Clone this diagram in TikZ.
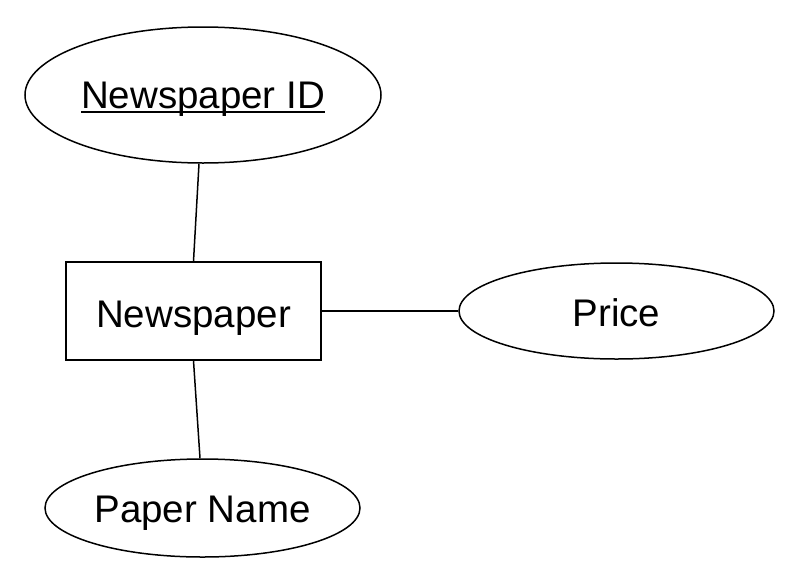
\documentclass[tikz,border=0pt]{standalone}
\usepackage{fontspec}
\setmainfont{Liberation Sans}
\usetikzlibrary{shapes.geometric}
\newcommand\myul[1]{\setbox0\hbox{#1}\rlap{\rule[-4.5pt]{\wd0}{1.8pt}}\box0}
\begin{document}
\begin{tikzpicture}[x=1pt,y=-1pt,
  base/.style={draw,line width=1.5pt,inner sep=0pt,font=\fontsize{38.5}{40}\selectfont,text depth=0pt},
  attr/.style={base,ellipse},
  entity/.style={base,rectangle},
  link/.style={line width=1.5pt}]
\useasboundingbox (0,0) rectangle (800,584);
\node[attr,minimum width=356pt,minimum height=136pt,text height=26pt] (id) at (203,95) {\myul{Newspaper ID}};
\node[entity,minimum width=255pt,minimum height=98pt,text height=33pt] (np) at (193.5,311) {Newspaper};
\node[attr,minimum width=315pt,minimum height=96pt,text height=31pt] (price) at (616.5,311) {Price};
\node[attr,minimum width=315pt,minimum height=98pt,text height=29pt] (pn) at (202.5,508) {Paper Name};
\draw[link] ([xshift=-4pt]id.south) -- (np.north);
\draw[link] (np.east) -- (price.west);
\draw[link] (np.south) -- ([xshift=-2.5pt]pn.north);
\end{tikzpicture}
\end{document}
